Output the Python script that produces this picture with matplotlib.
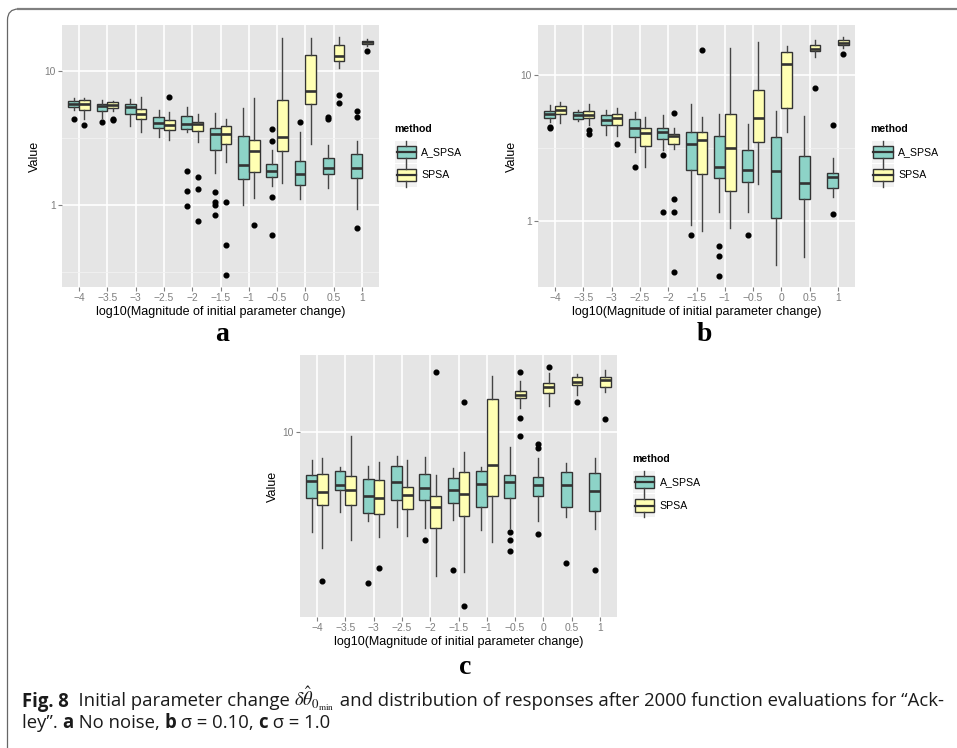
import matplotlib
matplotlib.use('Agg')

import os
import matplotlib.pyplot as plt
import numpy as np
from matplotlib import font_manager
from matplotlib.font_manager import FontProperties
from matplotlib.patches import FancyBboxPatch, Rectangle
from matplotlib.ticker import FixedLocator, NullFormatter

plt.rcParams['font.family'] = ['Liberation Sans', 'DejaVu Sans']

W, H = 957, 748

x_labels = ['\u22124', '\u22123.5', '\u22123', '\u22122.5', '\u22122', '\u22121.5',
            '\u22121', '\u22120.5', '0', '0.5', '1']
methods = ['A_SPSA', 'SPSA']
fill = {'A_SPSA': '#8DD3C7', 'SPSA': '#FFFFB3'}

# ---- panel a : no noise ----
a_A_lo = [5.12, 4.49, 3.91, 3.24, 3.52, 1.74, 1.00, 1.39, 1.10, 1.33, 0.93]
a_A_q1 = [5.38, 5.02, 4.78, 3.78, 3.69, 2.57, 1.55, 1.61, 1.40, 1.69, 1.58]
a_A_med = [5.68, 5.48, 5.38, 4.10, 4.05, 3.41, 1.98, 1.80, 1.71, 1.90, 1.90]
a_A_q3 = [5.97, 5.64, 5.70, 4.54, 4.61, 3.73, 3.25, 2.01, 2.14, 2.23, 2.42]
a_A_hi = [6.25, 6.04, 6.18, 5.12, 5.36, 4.83, 5.26, 2.56, 3.48, 2.81, 3.01]
a_A_out = [[4.41], [4.19], [], [], [1.79, 1.27, 0.98], [1.24, 1.06, 0.995, 0.84],
           [], [3.67, 3.02, 1.15, 0.60], [4.16], [4.54, 4.41], [5.06, 4.56, 0.67]]

a_S_lo = [4.36, 5.02, 3.48, 3.04, 2.94, 2.11, 1.12, 1.46, 2.84, 10.6, 15.4]
a_S_q1 = [5.15, 5.26, 4.41, 3.63, 3.55, 2.84, 1.77, 2.53, 5.64, 11.8, 15.8]
a_S_med = [5.70, 5.57, 4.80, 3.96, 4.00, 3.41, 2.54, 3.20, 7.13, 12.9, 16.4]
a_S_q3 = [6.04, 5.84, 5.24, 4.29, 4.19, 3.87, 3.08, 6.08, 13.2, 15.5, 16.7]
a_S_hi = [6.25, 5.97, 6.35, 4.92, 4.81, 4.41, 6.33, 17.5, 17.7, 17.8, 17.3]
a_S_out = [[3.98], [4.41, 4.31], [], [6.40], [1.62, 1.32, 0.76], [1.05, 0.50, 0.30],
           [0.71], [], [], [6.65, 5.77], [14.1]]

# ---- panel b : sigma = 0.10 ----
b_A_lo = [4.79, 4.84, 3.88, 2.99, 3.06, 0.94, 1.15, 1.16, 0.50, 0.57, 1.46]
b_A_q1 = [5.10, 4.97, 4.52, 3.78, 3.65, 2.22, 1.96, 1.84, 1.05, 1.42, 1.67]
b_A_med = [5.43, 5.32, 4.94, 4.34, 4.05, 3.39, 2.33, 2.22, 2.21, 1.82, 2.01]
b_A_q3 = [5.66, 5.55, 5.32, 5.00, 4.31, 4.09, 3.84, 3.05, 3.74, 2.77, 2.13]
b_A_hi = [6.24, 5.79, 5.76, 5.55, 5.32, 6.29, 5.38, 4.59, 5.66, 5.26, 2.69]
b_A_out = [[4.40, 4.30], [], [], [2.36], [2.83, 1.15], [0.80], [0.67, 0.58, 0.42],
           [0.80], [], [], [4.52, 1.12]]

b_S_lo = [4.67, 4.55, 3.84, 2.36, 3.11, 0.86, 0.89, 1.78, 4.09, 13.3, 15.4]
b_S_q1 = [5.38, 5.05, 4.57, 3.24, 3.35, 2.11, 1.60, 3.46, 5.97, 14.7, 16.0]
b_S_med = [5.79, 5.32, 5.10, 4.03, 3.82, 3.61, 3.18, 5.07, 11.9, 15.1, 16.6]
b_S_q3 = [6.10, 5.66, 5.43, 4.34, 3.96, 4.09, 5.38, 7.94, 14.4, 16.0, 17.3]
b_S_hi = [6.50, 6.29, 5.91, 5.15, 4.36, 5.15, 15.2, 16.9, 15.7, 17.4, 18.1]
b_S_out = [[], [4.20, 3.92], [3.37], [], [5.52, 1.42, 1.15, 0.45], [14.8], [], [], [],
           [8.19], [13.9]]

# ---- panel c : sigma = 1.0 ----
c_A_lo = [3.77, 4.58, 4.20, 3.93, 3.89, 4.24, 3.83, 3.92, 4.17, 4.37, 3.88]
c_A_q1 = [5.22, 5.65, 4.54, 5.15, 5.15, 4.97, 4.78, 5.22, 5.35, 4.81, 4.61]
c_A_med = [6.19, 5.97, 5.36, 6.12, 5.80, 5.65, 6.03, 6.15, 5.95, 5.97, 5.61]
c_A_q3 = [6.55, 6.82, 6.29, 7.19, 6.65, 6.37, 6.84, 6.55, 6.44, 6.73, 6.70]
c_A_hi = [7.60, 7.12, 7.14, 7.90, 7.80, 7.05, 7.12, 8.63, 7.75, 7.38, 7.73]
c_A_out = [[], [], [2.27], [], [3.47], [2.59], [], [3.74, 3.46, 3.11],
           [8.92, 8.55, 3.68], [2.77], [2.58]]

c_S_lo = [3.22, 3.46, 3.57, 3.62, 2.44, 2.54, 3.41, 12.7, 12.9, 14.4, 14.8]
c_S_q1 = [4.91, 4.91, 4.48, 4.72, 3.89, 4.39, 5.35, 13.9, 14.7, 15.8, 15.6]
c_S_med = [5.57, 5.69, 5.26, 5.40, 4.78, 5.43, 7.26, 14.4, 15.5, 16.4, 16.6]
c_S_q3 = [6.61, 6.50, 6.25, 5.82, 5.37, 6.73, 13.8, 14.9, 16.1, 17.1, 17.1]
c_S_hi = [7.78, 9.61, 7.45, 7.57, 6.55, 8.24, 17.4, 16.5, 17.8, 17.6, 18.4]
c_S_out = [[2.32], [], [2.65], [], [18.0], [13.4, 1.82], [], [18.0, 11.5, 9.64],
           [18.9], [13.4], [11.4]]


def make_stats(lo, q1, med, q3, hi, out):
    return [dict(whislo=lo[i], q1=q1[i], med=med[i], q3=q3[i], whishi=hi[i], fliers=out[i])
            for i in range(len(med))]


def px_rect(x0, y0, x1, y1):
    return [x0 / W, 1 - y1 / H, (x1 - x0) / W, (y1 - y0) / H]


def draw_panel(fig, rect, stats_A, stats_S, ylim, yticks, minor):
    ax = fig.add_axes(px_rect(*rect))
    ax.set_facecolor('#E5E5E5')
    ax.set_yscale('log')
    pos = np.arange(len(x_labels))
    for stats, off, m in [(stats_A, -0.19, 'A_SPSA'), (stats_S, 0.19, 'SPSA')]:
        ax.bxp(stats, positions=pos + off, widths=0.38, patch_artist=True,
               showcaps=False, manage_ticks=False,
               boxprops=dict(facecolor=fill[m], edgecolor='#333333', linewidth=1.0),
               medianprops=dict(color='#333333', linewidth=1.9),
               whiskerprops=dict(color='#444444', linewidth=1.0),
               flierprops=dict(marker='o', markerfacecolor='black', markeredgecolor='black',
                               markersize=3.4))
    ax.set_xlim(-0.6, 10.6)
    ax.set_ylim(*ylim)
    ax.set_xticks(pos)
    ax.set_xticklabels(x_labels)
    ax.set_yticks(yticks)
    ax.set_yticklabels([('%g' % t) for t in yticks])
    ax.yaxis.set_minor_locator(FixedLocator(minor))
    ax.yaxis.set_minor_formatter(NullFormatter())
    ax.tick_params(which='minor', length=0)
    ax.tick_params(which='major', length=3, width=0.8, color='#7f7f7f',
                   labelcolor='#7f7f7f', labelsize=7.4, pad=1.5)
    ax.grid(True, which='major', color='white', linewidth=1.2)
    ax.grid(True, which='minor', axis='y', color='#F2F2F2', linewidth=0.6)
    ax.set_axisbelow(True)
    for s in ax.spines.values():
        s.set_visible(False)
    return ax


def draw_legend(ov, tx, ty):
    ov.text(tx, ty, 'method', fontsize=7.6, fontweight='bold', ha='left', va='center')
    kx = tx + 0.8
    for i, m in enumerate(methods):
        top = ty + 11.5 + i * 23.5
        ov.add_patch(Rectangle((kx, top), 22, 22.5, facecolor='#F2F2F2', edgecolor='none'))
        ov.add_patch(Rectangle((kx + 1.7, top + 5), 19.3, 12.3, facecolor=fill[m],
                               edgecolor='#333333', linewidth=1.0))
        cx = kx + 11.3
        ov.plot([cx, cx], [top, top + 5], color='#444444', lw=1.0)
        ov.plot([cx, cx], [top + 17.3, top + 22.5], color='#444444', lw=1.0)
        ov.plot([kx + 1.7, kx + 21], [top + 11.2, top + 11.2], color='#333333', lw=1.6)
        ov.text(kx + 26.5, top + 11.3, m, fontsize=7.6, ha='left', va='center')


fig = plt.figure(figsize=(W / 100, H / 100), dpi=100)
fig.patch.set_facecolor('white')

log_minor = [10 ** -0.5, 10 ** 0.5]
draw_panel(fig, (62, 25, 379, 287),
           make_stats(a_A_lo, a_A_q1, a_A_med, a_A_q3, a_A_hi, a_A_out),
           make_stats(a_S_lo, a_S_q1, a_S_med, a_S_q3, a_S_hi, a_S_out),
           (10 ** -0.612, 10 ** 1.343), [1, 10], log_minor)
draw_panel(fig, (538, 25, 855, 287),
           make_stats(b_A_lo, b_A_q1, b_A_med, b_A_q3, b_A_hi, b_A_out),
           make_stats(b_S_lo, b_S_q1, b_S_med, b_S_q3, b_S_hi, b_S_out),
           (10 ** -0.452, 10 ** 1.342), [1, 10], log_minor)
draw_panel(fig, (300, 355, 617, 617),
           make_stats(c_A_lo, c_A_q1, c_A_med, c_A_q3, c_A_hi, c_A_out),
           make_stats(c_S_lo, c_S_q1, c_S_med, c_S_q3, c_S_hi, c_S_out),
           (10 ** 0.213, 10 ** 1.328), [10], [])

# overlay in pixel units for titles, legends, caption and frame
ov = fig.add_axes([0, 0, 1, 1], facecolor='none')
ov.set_xlim(0, W)
ov.set_ylim(H, 0)
ov.axis('off')

xtitle = 'log10(Magnitude of initial parameter change)'
for cx, cy in [(220.5, 312), (696.5, 312), (458.5, 642)]:
    ov.text(cx, cy, xtitle, fontsize=9, ha='center', va='center')
for cx, cy in [(35, 156), (511.7, 156), (273.3, 486)]:
    ov.text(cx, cy, 'Value', fontsize=9, rotation=90, ha='center', va='center')

draw_legend(ov, 394, 129)
draw_legend(ov, 870.7, 129)
draw_legend(ov, 632.3, 459.3)

for lab, cx, by in [('a', 222, 341), ('b', 704, 341), ('c', 465, 674)]:
    ov.text(cx, by, lab, fontsize=20, fontweight='bold', family='Liberation Serif',
            ha='center', va='baseline')

# frame
ov.add_patch(FancyBboxPatch((7.5, 9), 1000, 760, boxstyle='round,pad=0,rounding_size=11',
                            facecolor='none', edgecolor='#666666', linewidth=0.9))
ov.plot([17, W], [9, 9], color='#808080', lw=1.6, solid_capstyle='butt')

# caption, written as runs of normal / bold text
line1 = [('Fig. 8', 'bold'), ('  Initial parameter change ', 'normal'),
         (r'$\delta\hat{\theta}_{0_{\min}}$', 'math'),
         (' and distribution of responses after 2000 function evaluations for \u201cAck-', 'normal')]
line2 = [('ley\u201d. ', 'normal'), ('a', 'bold'), (' No noise, ', 'normal'), ('b', 'bold'),
         (' \u03c3 = 0.10, ', 'normal'), ('c', 'bold'), (' \u03c3 = 1.0', 'normal')]

renderer = fig.canvas.get_renderer()


def put_runs(runs, x, y, size, family):
    items = []
    for s, kind in runs:
        kw = dict(fontsize=size, family=[family, 'DejaVu Sans'],
                  ha='left', va='baseline', color='#1a1a1a')
        if kind == 'bold':
            kw['fontweight'] = 'bold'
        if kind == 'math':
            kw['math_fontfamily'] = 'stix'
        t = ov.text(x, y, s, **kw)
        x += t.get_window_extent(renderer=renderer).width
        items.append(t)
    return items, x


def has_bold(name):
    # family must exist and have a real bold face
    try:
        path = font_manager.findfont(FontProperties(family=name, weight='bold'),
                                     fallback_to_default=False)
    except ValueError:
        return False
    return 'bold' in os.path.basename(path).lower()


# pick the sans family whose width-fitted size is closest to the target glyph size
target_w = 943 - 22
best = ('Liberation Sans', 12.0)
best_err = None
for fam in ['Roboto', 'Liberation Sans', 'Lato', 'Open Sans', 'Noto Sans']:
    if not has_bold(fam):
        continue
    items, xend = put_runs(line1, 22, 706.5, 12.0, fam)
    for t in items:
        t.remove()
    fitted = 12.0 * target_w / (xend - 22)
    if best_err is None or abs(fitted - 12.2) < best_err:
        best = (fam, fitted)
        best_err = abs(fitted - 12.2)

cap_font, cap_size = best
put_runs(line1, 22, 706.5, cap_size, cap_font)
put_runs(line2, 22, 728.5, cap_size, cap_font)

fig.savefig('out.png', dpi=100, facecolor='white')
